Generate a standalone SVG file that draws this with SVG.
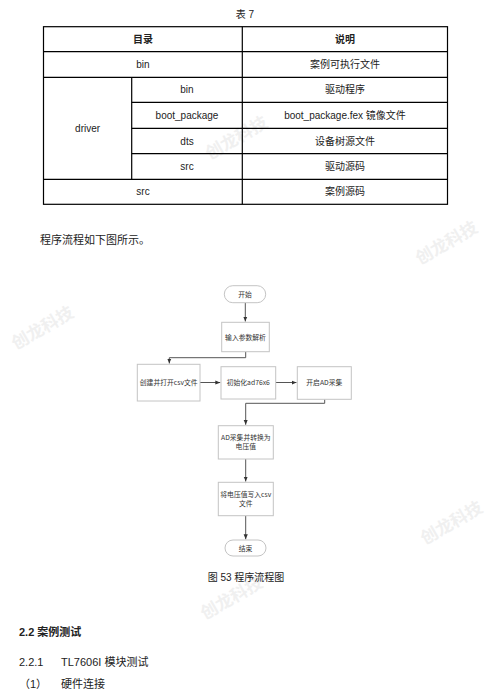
<svg xmlns="http://www.w3.org/2000/svg" width="496" height="692" viewBox="0 0 496 692">
<defs>
<style>
.t{font-family:"Liberation Sans","Noto Sans CJK SC",sans-serif;font-size:10px;fill:#222;text-anchor:middle}
.b{font-weight:bold}
.fc{font-family:"Noto Sans CJK SC",sans-serif;font-size:6.8px;fill:#333;text-anchor:middle}
.box{fill:#fff;stroke:#c4c4c4;stroke-width:1}
.ln{fill:none;stroke:#555;stroke-width:1}
.tb{fill:none;stroke:#000;stroke-width:1.2}
.wm{font-family:"Noto Sans CJK SC",sans-serif;font-size:17px;font-weight:bold;fill:#f0f0f0}
.p{font-family:"Liberation Sans","Noto Sans CJK SC",sans-serif;fill:#222}
</style>
<marker id="ah" viewBox="0 0 6 6" refX="6" refY="3" markerWidth="5" markerHeight="5" orient="auto">
<path d="M0,0.5 L6,3 L0,5.5 Z" fill="#333"/>
</marker>
</defs>
<rect width="496" height="692" fill="#fff"/>
<g id="watermarks">
<text class="wm" transform="translate(210,160) rotate(-30)">创龙科技</text>
<text class="wm" transform="translate(16,350) rotate(-30)">创龙科技</text>
<text class="wm" transform="translate(420,265) rotate(-30)">创龙科技</text>
<text class="wm" transform="translate(425,545) rotate(-30)">创龙科技</text>
<text class="wm" transform="translate(205,620) rotate(-30)">创龙科技</text>
</g>
<g id="table">
<text class="t" x="245" y="18">表 7</text>
<rect class="tb" x="43.5" y="26.7" width="404" height="177.6"/>
<line class="tb" x1="242.3" y1="26.7" x2="242.3" y2="204.3"/>
<line class="tb" x1="131.7" y1="77.3" x2="131.7" y2="179.3"/>
<line class="tb" x1="43.5" y1="51.7" x2="447.5" y2="51.7"/>
<line class="tb" x1="43.5" y1="77.3" x2="447.5" y2="77.3"/>
<line class="tb" x1="131.7" y1="102.3" x2="447.5" y2="102.3"/>
<line class="tb" x1="131.7" y1="128.3" x2="447.5" y2="128.3"/>
<line class="tb" x1="131.7" y1="153.7" x2="447.5" y2="153.7"/>
<line class="tb" x1="43.5" y1="179.3" x2="447.5" y2="179.3"/>
<text class="t b" x="143" y="42.7">目录</text>
<text class="t b" x="345" y="42.7">说明</text>
<text class="t" x="143" y="68">bin</text>
<text class="t" x="345" y="68">案例可执行文件</text>
<text class="t" x="87.6" y="132">driver</text>
<text class="t" x="187" y="93.3">bin</text>
<text class="t" x="345" y="93.3">驱动程序</text>
<text class="t" x="187" y="118.8">boot_package</text>
<text class="t" x="345" y="118.8">boot_package.fex 镜像文件</text>
<text class="t" x="187" y="144.5">dts</text>
<text class="t" x="345" y="144.5">设备树源文件</text>
<text class="t" x="187" y="170">src</text>
<text class="t" x="345" y="170">驱动源码</text>
<text class="t" x="143" y="195.3">src</text>
<text class="t" x="345" y="195.3">案例源码</text>
</g>
<text class="p" x="40" y="244" font-size="11">程序流程如下图所示。</text>
<g id="connectors">
<path class="ln" d="M245.3,302.7 V321.5" marker-end="url(#ah)"/>
<path class="ln" d="M245.7,351.7 V357.7 H169.3 V363.5" marker-end="url(#ah)"/>
<path class="ln" d="M200,382.5 H220.3" marker-end="url(#ah)"/>
<path class="ln" d="M275.7,382.5 H296.5" marker-end="url(#ah)"/>
<path class="ln" d="M324.7,399.3 V403.3 H245.7 V424.8" marker-end="url(#ah)"/>
<path class="ln" d="M245.7,459 V481.5" marker-end="url(#ah)"/>
<path class="ln" d="M245.7,515.7 V539.3" marker-end="url(#ah)"/>
</g>
<g id="start">
<rect class="box" x="224.3" y="285.7" width="41.4" height="17" rx="8.5"/>
<text class="fc" x="245" y="296.5">开始</text>
</g>
<g id="parse">
<rect class="box" x="221.7" y="322.3" width="47.6" height="29.4"/>
<text class="fc" x="245.5" y="339.5">输入参数解析</text>
</g>
<g id="createcsv">
<rect class="box" x="137.3" y="364.3" width="62.7" height="36.7"/>
<text class="fc" x="168.7" y="385">创建并打开csv文件</text>
</g>
<g id="init">
<rect class="box" x="221" y="366.7" width="54.7" height="32.3"/>
<text class="fc" x="248.3" y="385">初始化ad76x6</text>
</g>
<g id="startad">
<rect class="box" x="297.3" y="366.7" width="54" height="32.6"/>
<text class="fc" x="324.3" y="385">开启AD采集</text>
</g>
<g id="convert">
<rect class="box" x="218.3" y="425.7" width="55" height="33.3"/>
<text class="fc" x="245.8" y="440">AD采集并转换为</text>
<text class="fc" x="245.8" y="449">电压值</text>
</g>
<g id="write">
<rect class="box" x="218.3" y="482.3" width="55" height="33.4"/>
<text class="fc" x="245.8" y="497">将电压值写入csv</text>
<text class="fc" x="245.8" y="506">文件</text>
</g>
<g id="end">
<rect class="box" x="225" y="540" width="41" height="16" rx="8"/>
<text class="fc" x="245.5" y="550.5">结束</text>
</g>
<text class="t" x="246" y="580.5" font-size="10" fill="#000">图 53  程序流程图</text>
<text class="p" x="19" y="636" font-size="11" font-weight="bold">2.2  案例测试</text>
<text class="p" x="19" y="666" font-size="11">2.2.1</text>
<text class="p" x="61" y="666" font-size="11">TL7606I 模块测试</text>
<text class="p" x="19" y="688" font-size="11">（1）</text>
<text class="p" x="61" y="688" font-size="11">硬件连接</text>
</svg>
